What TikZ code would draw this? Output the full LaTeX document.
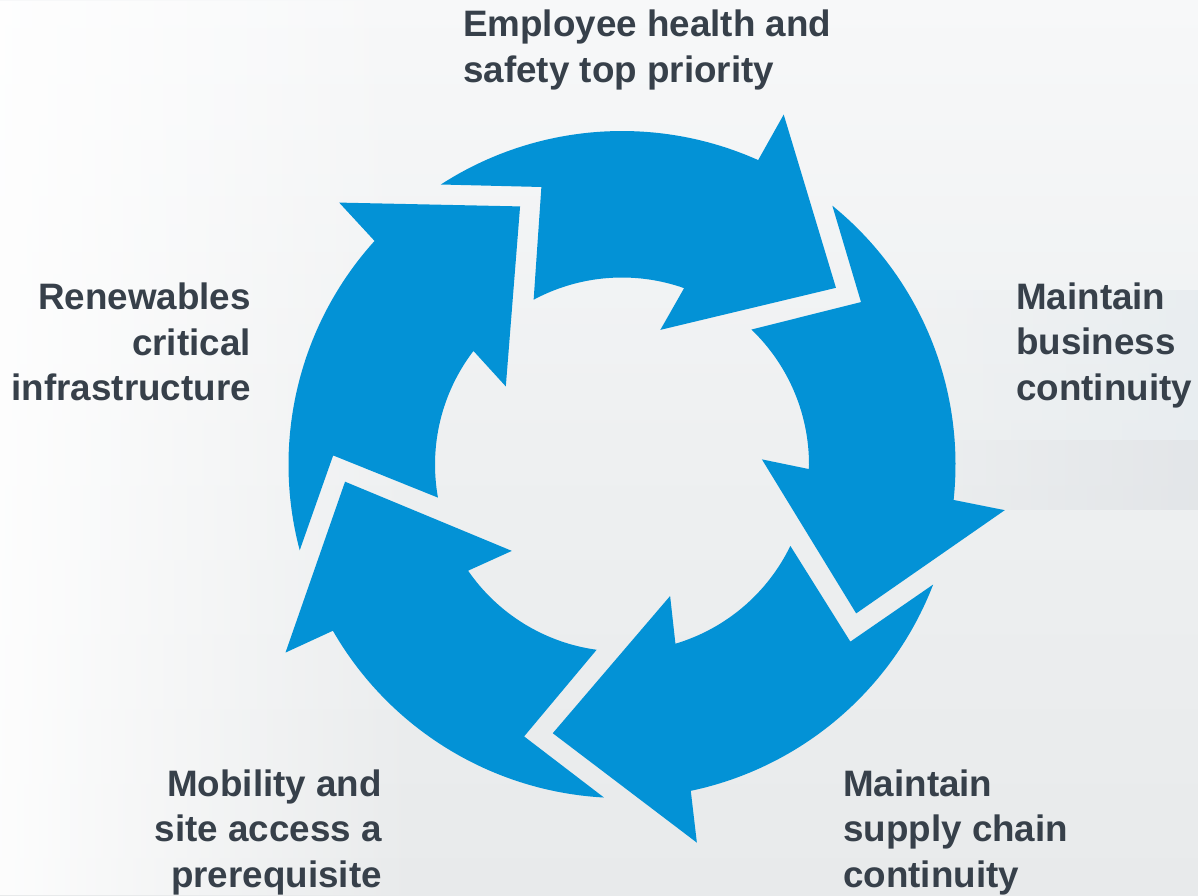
\documentclass[tikz,border=0pt]{standalone}
\usepackage{fontspec}
\setmainfont{Liberation Sans}
\usetikzlibrary{fadings}
\definecolor{arrowblue}{RGB}{3,146,214}
\definecolor{labelgrey}{RGB}{55,64,74}
\definecolor{bgtop}{RGB}{247,248,249}
\definecolor{bgmid}{RGB}{238,240,241}
\definecolor{bgbot}{RGB}{232,234,235}
\definecolor{hullgrey}{RGB}{226,229,232}
\definecolor{shipblue}{RGB}{232,237,240}
\tikzfading[name=fadeleft, left color=transparent!0, right color=transparent!100]
\tikzfading[name=fadein, left color=transparent!100, right color=transparent!0]
\begin{document}
\begin{tikzpicture}[x=1pt,y=1pt,
  arrowshape/.style={fill=arrowblue},
  lbl/.style={font=\bfseries\fontsize{36.8}{45.5}\selectfont, text=labelgrey, inner sep=0pt}]
\useasboundingbox (0,0) rectangle (1198,-895);
% background (faded photo approximation)
\shade[top color=bgtop, bottom color=bgbot, middle color=bgmid] (0,0) rectangle (1198,-895);
\fill[shipblue, path fading=fadein, opacity=0.9] (900,-290) rectangle (1198,-440);
\fill[hullgrey, path fading=fadein, opacity=0.9] (860,-440) rectangle (1198,-510);
\fill[white, path fading=fadeleft, opacity=0.9] (0,0) rectangle (420,-895);
% arrows
\foreach \t/\n in {0/a,-72/b,-144/c,-216/d,-288/e} {
  \begin{scope}[shift={(622,-464.5)}, rotate=\t]
    \fill[arrowshape] (122.9:333.5) arc[start angle=122.9, end angle=65.9, radius=333.5]
      -- (65.2:385.5) -- (39.55:277.5) -- (74.1:140) -- (70.6:187)
      arc[start angle=70.6, end angle=118.2, radius=187]
      -- (106.2:289) -- cycle;
  \end{scope}
}
% labels (anchor = baseline of last line)
\node[lbl, anchor=base west, align=left] (top) at (463,-82) {Employee health and\\safety top priority};
\node[lbl, anchor=base east, align=right] (left) at (251,-400.5) {Renewables\\critical\\infrastructure};
\node[lbl, anchor=base west, align=left] (right) at (1016,-400) {Maintain\\business\\continuity};
\node[lbl, anchor=base east, align=right] (bl) at (382,-887) {Mobility and\\site access a\\prerequisite};
\node[lbl, anchor=base west, align=left] (br) at (843,-887) {Maintain\\supply chain\\continuity};
\end{tikzpicture}
\end{document}
